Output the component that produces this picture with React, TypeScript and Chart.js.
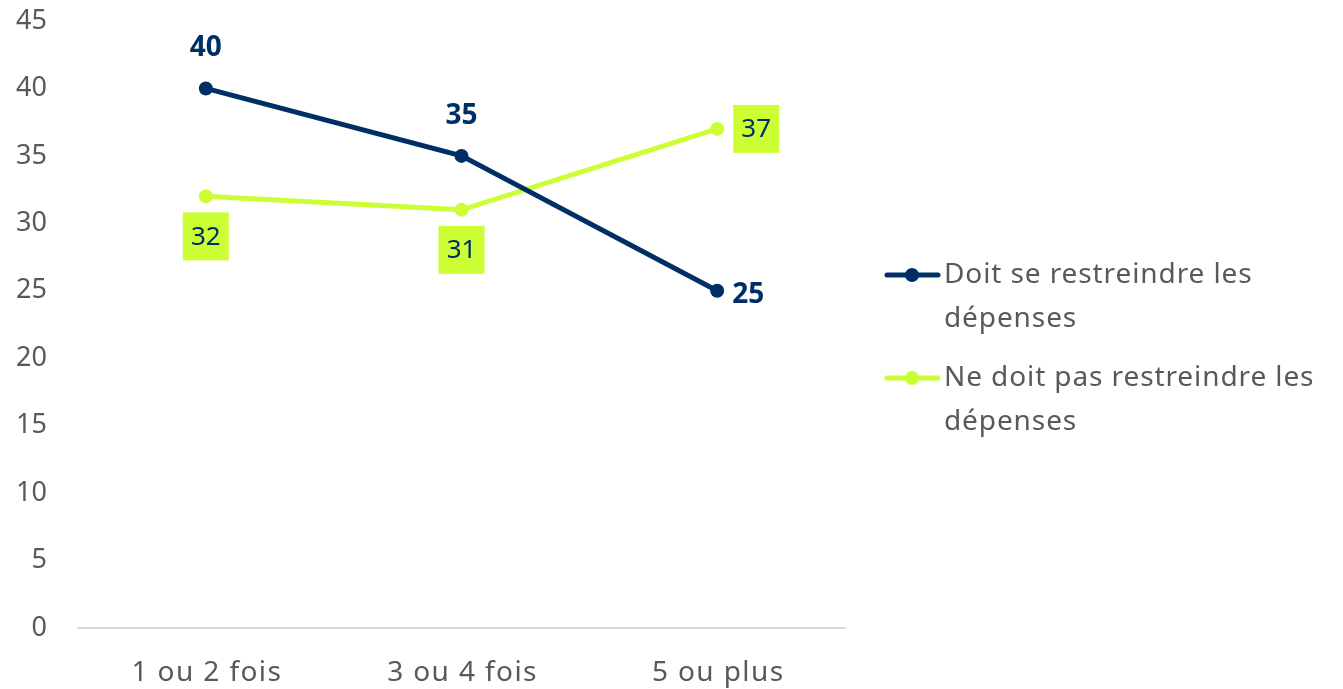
import React, { useEffect, useRef } from "react";
import { Chart, registerables } from "chart.js";

Chart.register(...registerables);

const categories = ["1 ou 2 fois", "3 ou 4 fois", "5 ou plus"];
const seriesNames = ["Doit se restreindre les dépenses", "Ne doit pas restreindre les dépenses"];
const legendLines = [
  ["Doit se restreindre les", "dépenses"],
  ["Ne doit pas restreindre les", "dépenses"],
];
const doitValues = [40, 35, 25];
const neDoitValues = [32, 31, 37];
const yTicks = [0, 5, 10, 15, 20, 25, 30, 35, 40, 45];

const NAVY = "#002f66";
const LIME = "#ccff33";
const GREY = "#595959";
const FONT = "'Noto Sans', sans-serif";

const navyLabelPos = ["top", "top", "right"];
const limeLabelPos = ["bottom", "bottom", "right"];

const labelPlugin = {
  id: "labels",
  afterDatasetsDraw(chart: any) {
    const ctx = chart.ctx;
    ctx.save();
    ctx.textAlign = "center";
    ctx.textBaseline = "middle";
    const m0 = chart.getDatasetMeta(0);
    ctx.font = `bold 28px ${FONT}`;
    ctx.fillStyle = NAVY;
    m0.data.forEach((pt: any, i: number) => {
      const v = chart.data.datasets[0].data[i];
      let x = pt.x, y = pt.y;
      if (navyLabelPos[i] === "top") y -= 40;
      else { x += 31; y += 4; }
      ctx.fillText(String(v), x, y);
    });
    const m1 = chart.getDatasetMeta(1);
    ctx.font = `26px ${FONT}`;
    m1.data.forEach((pt: any, i: number) => {
      const v = chart.data.datasets[1].data[i];
      let x = pt.x, y = pt.y;
      if (limeLabelPos[i] === "bottom") y += 40;
      else x += 39;
      ctx.fillStyle = LIME;
      ctx.fillRect(x - 23, y - 24, 46, 48);
      ctx.fillStyle = NAVY;
      ctx.fillText(String(v), x, y + 1);
    });
    ctx.restore();
  },
};

const xLabelPlugin = {
  id: "xLabels",
  afterDraw(chart: any) {
    const ctx = chart.ctx;
    const xs = chart.scales.x;
    ctx.save();
    ctx.font = `28px ${FONT}`;
    ctx.fillStyle = GREY;
    ctx.textAlign = "center";
    ctx.textBaseline = "middle";
    (ctx as any).letterSpacing = "1.4px";
    categories.forEach((c, i) => {
      ctx.fillText(c, xs.getPixelForValue(i) + 1, chart.chartArea.bottom + 45);
    });
    (ctx as any).letterSpacing = "0px";
    ctx.restore();
  },
};

const legendPlugin = {
  id: "customLegend",
  afterDraw(chart: any) {
    const ctx = chart.ctx;
    ctx.save();
    const colors = [NAVY, LIME];
    const startY = [275, 378];
    ctx.font = `28px ${FONT}`;
    ctx.textBaseline = "middle";
    ctx.textAlign = "left";
    legendLines.forEach((lines, i) => {
      const y = startY[i];
      ctx.strokeStyle = colors[i];
      ctx.lineWidth = 5;
      ctx.lineCap = "round";
      ctx.beginPath();
      ctx.moveTo(887, y);
      ctx.lineTo(938, y);
      ctx.stroke();
      ctx.fillStyle = colors[i];
      ctx.beginPath();
      ctx.arc(912, y, 7, 0, Math.PI * 2);
      ctx.fill();
      ctx.fillStyle = GREY;
      (ctx as any).letterSpacing = "0.9px";
      lines.forEach((t, j) => ctx.fillText(t, 944, y + j * 44));
      (ctx as any).letterSpacing = "0px";
    });
    ctx.restore();
  },
};

export default function App() {
  const ref = useRef<HTMLCanvasElement>(null);
  useEffect(() => {
    if (!ref.current) return;
    const chart = new Chart(ref.current, {
      type: "line",
      data: {
        labels: categories,
        datasets: [
          {
            label: seriesNames[0],
            data: doitValues,
            borderColor: NAVY,
            backgroundColor: NAVY,
            borderWidth: 5,
            pointRadius: 7,
            pointBackgroundColor: NAVY,
            pointBorderWidth: 0,
          },
          {
            label: seriesNames[1],
            data: neDoitValues,
            borderColor: LIME,
            backgroundColor: LIME,
            borderWidth: 5,
            pointRadius: 7,
            pointBackgroundColor: LIME,
            pointBorderWidth: 0,
          },
        ],
      },
      options: {
        animation: false,
        responsive: false,
        maintainAspectRatio: false,
        layout: { padding: { top: 21, right: 498, left: 0, bottom: 0 } },
        plugins: {
          legend: { display: false },
          tooltip: { enabled: false },
        },
        scales: {
          x: {
            offset: true,
            grid: { display: false, drawTicks: false },
            border: { display: true, color: "#d9d9d9", width: 2 },
            ticks: { display: false },
            afterFit: (s: any) => { s.height = 61; },
          },
          y: {
            min: 0,
            max: 45,
            afterBuildTicks: (s: any) => { s.ticks = yTicks.map((v) => ({ value: v })); },
            grid: { display: false, drawTicks: false },
            border: { display: false },
            ticks: { color: GREY, font: { family: FONT, size: 27 }, padding: 31 },
            afterFit: (s: any) => { s.width = 78; s.paddingTop = 0; s.paddingBottom = 0; },
          },
        },
      },
      plugins: [labelPlugin, xLabelPlugin, legendPlugin],
    });
    return () => chart.destroy();
  }, []);
  return (
    <div style={{ position: "fixed", left: 0, top: 0, width: 1343, height: 689, background: "#fff" }}>
      <canvas ref={ref} width={1343} height={689} style={{ width: 1343, height: 689 }} />
    </div>
  );
}
